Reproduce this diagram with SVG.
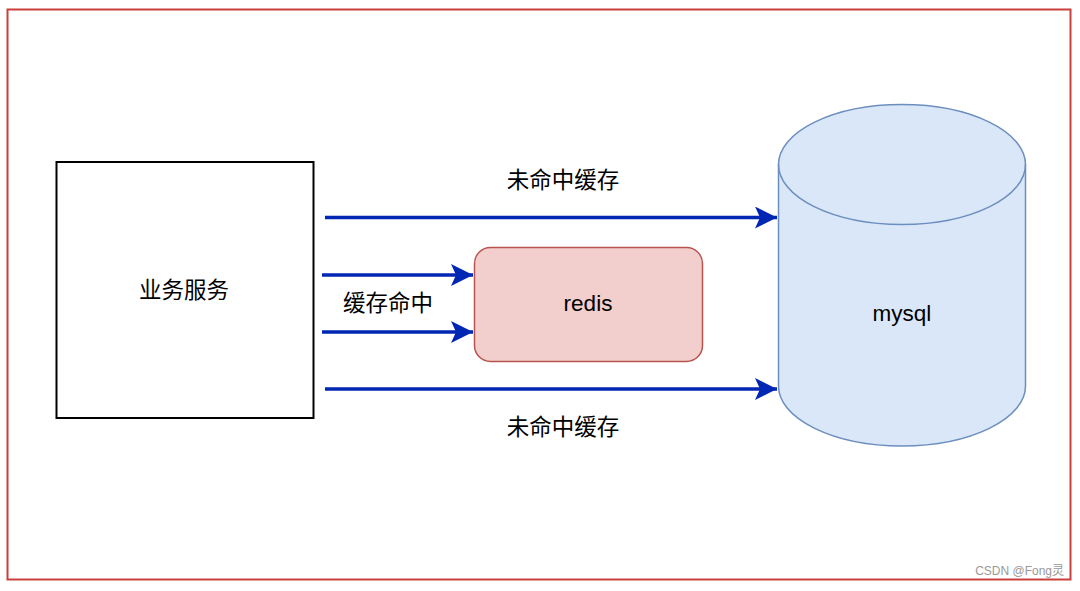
<svg xmlns="http://www.w3.org/2000/svg" width="1080" height="591" viewBox="0 0 1080 591">
<style>
.lbl{font-family:"Liberation Sans","Noto Sans CJK SC",sans-serif;font-size:22.5px;fill:#000;text-anchor:middle;dominant-baseline:central}
.conn{stroke:#0027B3;stroke-width:3.5;fill:none}
</style>
<defs>
<marker id="ah" viewBox="0 0 22 22" refX="22" refY="11" markerWidth="22" markerHeight="22" markerUnits="userSpaceOnUse" orient="auto">
<path d="M0,0 L22,11 L0,22 L5,11 Z" fill="#0027B3"/>
</marker>
</defs>
<rect x="0" y="0" width="1080" height="591" fill="#fff"/>
<rect x="7.5" y="9.5" width="1063" height="570" fill="none" stroke="#C9403A" stroke-width="2"/>
<g id="service">
<rect x="56.5" y="162" width="257" height="256" fill="#fff" stroke="#000" stroke-width="2"/>
<text class="lbl" x="184" y="290">业务服务</text>
</g>
<g id="redis">
<rect x="474.5" y="247.5" width="228" height="114" rx="16" fill="#F2CFCC" stroke="#B85450" stroke-width="1.5"/>
<text class="lbl" x="588" y="303">redis</text>
</g>
<g id="mysql">
<path d="M778.5,164.5 L778.5,386 A123.5,60 0 0 0 1025.5,386 L1025.5,164.5 A123.5,60 0 0 0 778.5,164.5 Z" fill="#DAE7F8" stroke="#6C8EBF" stroke-width="1.5"/>
<path d="M778.5,164.5 A123.5,60 0 0 0 1025.5,164.5" fill="none" stroke="#6C8EBF" stroke-width="1.5"/>
<text class="lbl" x="902" y="313">mysql</text>
</g>
<g id="connectors">
<line class="conn" x1="325" y1="217.5" x2="777" y2="217.5" marker-end="url(#ah)"/>
<line class="conn" x1="322" y1="275" x2="473" y2="275" marker-end="url(#ah)"/>
<line class="conn" x1="322" y1="332" x2="473" y2="332" marker-end="url(#ah)"/>
<line class="conn" x1="325" y1="389" x2="777" y2="389" marker-end="url(#ah)"/>
</g>
<g id="labels">
<text class="lbl" x="563" y="180">未命中缓存</text>
<text class="lbl" x="388" y="303">缓存命中</text>
<text class="lbl" x="563" y="427">未命中缓存</text>
</g>
<text x="1064" y="575" font-family="'Liberation Sans','Noto Sans CJK SC',sans-serif" font-size="12" fill="#999" text-anchor="end">CSDN @Fong灵</text>
</svg>
